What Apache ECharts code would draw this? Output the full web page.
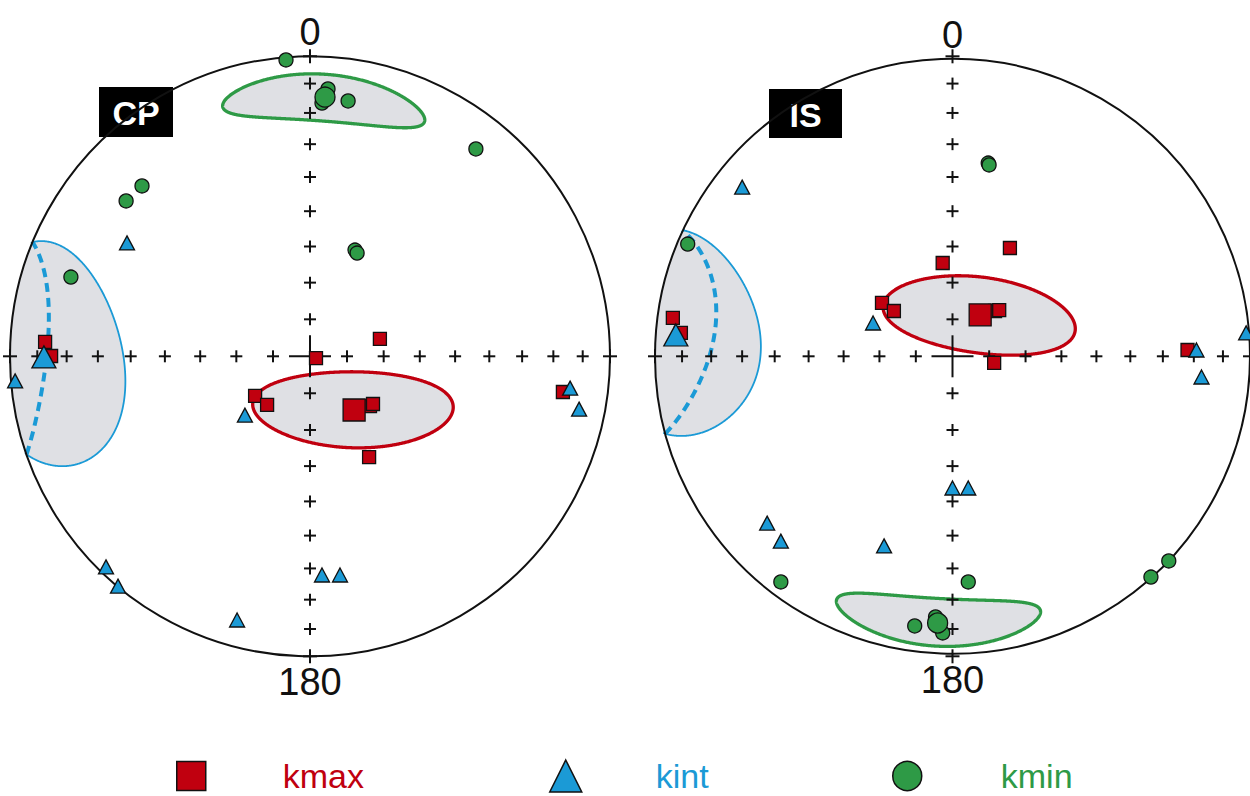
<!DOCTYPE html>
<html>
<head>
<meta charset="utf-8">
<script src="https://cdn.jsdelivr.net/npm/echarts@6/dist/echarts.min.js"></script>
<style>
  html, body { margin: 0; padding: 0; background: #fff; }
  #chart { width: 1250px; height: 796px; }
</style>
</head>
<body>
<div id="chart"></div>
<script>
// Equal-area, lower-hemisphere nets of AMS principal axes at two sites (CP, IS).
// Positions are net coordinates: x east, y north, primitive circle radius 1.

// ---- site CP ----
const cpKmax = [[-0.883, 0.048], [-0.863, 0.001], [0.020, -0.006], [0.233, 0.058], [0.200, -0.166],
                [0.210, -0.159], [0.197, -0.336], [-0.183, -0.132], [-0.143, -0.162], [0.843, -0.119]];
const cpKint = [[-0.983, -0.082], [-0.610, 0.378], [-0.217, -0.196], [-0.680, -0.702], [-0.640, -0.766],
                [-0.243, -0.879], [0.040, -0.729], [0.100, -0.729], [0.867, -0.106], [0.897, -0.176]];
const cpKmin = [[-0.080, 0.988], [-0.560, 0.568], [-0.613, 0.518], [-0.797, 0.264], [0.553, 0.691],
                [0.150, 0.354], [0.157, 0.344], [0.040, 0.844], [0.060, 0.891], [0.127, 0.851]];
const cpKmaxMean = [0.147, -0.179];
const cpKintMean = [-0.887, -0.002];
const cpKminMean = [0.050, 0.864];
// confidence cones: [semi-angle along axis (deg), semi-angle across (deg), axis azimuth on the net (deg)]
const cpKmaxCone = [27.3, 10.3, 92];
const cpKintCone = [27, 22.5, 121];
const cpKminCone = [22, 8, 95];

// ---- site IS ----
const isKmax = [[-0.940, 0.128], [-0.913, 0.078], [-0.237, 0.178], [-0.197, 0.151], [-0.033, 0.311],
                [0.193, 0.361], [0.143, 0.151], [0.157, 0.154], [0.790, 0.021], [0.140, -0.022]];
const isKint = [[-0.707, 0.564], [-0.267, 0.111], [0.820, 0.021], [0.987, 0.078], [0.837, -0.069],
                [0.000, -0.439], [0.053, -0.439], [-0.623, -0.556], [-0.577, -0.616], [-0.230, -0.632]];
const isKmin = [[-0.890, 0.374], [0.120, 0.644], [0.123, 0.638], [0.053, -0.752], [0.667, -0.736],
                [0.727, -0.682], [-0.577, -0.752], [-0.127, -0.899], [-0.057, -0.869], [-0.033, -0.922]];
const isKmaxMean = [0.093, 0.138];
const isKintMean = [-0.930, 0.071];
const isKminMean = [-0.050, -0.889];
const isKmaxCone = [26.5, 10.3, 97];
const isKintCone = [28.5, 20.5, 104];
const isKminCone = [22, 8.3, 93];

// net graticule ticks (plunge along the four cardinal trends) and labels
const tickTrends = [0, 90, 180, 270];
const tickPlunges = [90, 80, 70, 60, 50, 40, 30, 20, 10, 0];
const northLabel = '0';
const southLabel = '180';
const siteNames = ['CP', 'IS'];
const axisNames = ['kmax', 'kint', 'kmin'];

const COLORS = { kmax: '#c0000f', kint: '#1b9ad6', kmin: '#2e9a46' };
const FILL = '#dfe0e4';
const INK = '#111111';
const FONT = '"Liberation Sans", Arial, Helvetica, sans-serif';
const D2R = Math.PI / 180;
const SQ2 = Math.SQRT2;

// direction (north, east, down) -> equal-area net coordinates
function toNet(n, e, d) {
  const p = Math.asin(Math.max(-1, Math.min(1, d)));
  const t = Math.atan2(e, n);
  const r = SQ2 * Math.sin((Math.PI / 2 - p) / 2);
  return [r * Math.sin(t), r * Math.cos(t)];
}
function fromNet(x, y) {
  const r = Math.hypot(x, y);
  return { trend: Math.atan2(x, y), plunge: Math.PI / 2 - 2 * Math.asin(Math.min(1, r / SQ2)) };
}
function trendPlungeToNet(trendDeg, plungeDeg) {
  const t = trendDeg * D2R, p = plungeDeg * D2R;
  return toNet(Math.cos(p) * Math.cos(t), Math.cos(p) * Math.sin(t), Math.sin(p));
}

// outline of an elliptical confidence cone about a mean axis; parts above the
// horizon are folded back into the lower hemisphere and flagged
function coneOutline(mean, cone, steps) {
  const { trend: T, plunge: P } = fromNet(mean[0], mean[1]);
  const cT = Math.cos(T), sT = Math.sin(T), cP = Math.cos(P), sP = Math.sin(P);
  const m = [cP * cT, cP * sT, sP];
  const outward = [sP * cT, sP * sT, -cP];
  const side = [-sT, cT, 0];
  const g = cone[2] * D2R - T;
  const A = outward.map((o, i) => Math.cos(g) * o + Math.sin(g) * side[i]);
  const B = outward.map((o, i) => -Math.sin(g) * o + Math.cos(g) * side[i]);
  const ta = Math.tan(cone[0] * D2R), tb = Math.tan(cone[1] * D2R);
  const pts = [];
  for (let i = 0; i < steps; i++) {
    const a = 2 * Math.PI * i / steps;
    const d = m.map((mi, k) => mi + ta * Math.cos(a) * A[k] + tb * Math.sin(a) * B[k]);
    const len = Math.hypot(d[0], d[1], d[2]);
    pts.push({ xy: toNet(d[0] / len, d[1] / len, Math.abs(d[2]) / len), up: d[2] < 0 });
  }
  return pts;
}

const coneStyles = {
  kmax: { stroke: COLORS.kmax, width: 3.3 },
  kint: { stroke: COLORS.kint, width: 1.8, dashWidth: 4 },
  kmin: { stroke: COLORS.kmin, width: 3.3 }
};

const nets = [
  { name: siteNames[0],
    points: { kmax: cpKmax, kint: cpKint, kmin: cpKmin },
    means: { kmax: cpKmaxMean, kint: cpKintMean, kmin: cpKminMean },
    cones: { kmax: cpKmaxCone, kint: cpKintCone, kmin: cpKminCone } },
  { name: siteNames[1],
    points: { kmax: isKmax, kint: isKint, kmin: isKmin },
    means: { kmax: isKmaxMean, kint: isKintMean, kmin: isKminMean },
    cones: { kmax: isKmaxCone, kint: isKintCone, kmin: isKminCone } }
];

function makeConeRenderer(net) {
  return function (params, api) {
    const kind = axisNames[api.value(2)];
    const st = coneStyles[kind];
    const pts = coneOutline(net.means[kind], net.cones[kind], 720);
    const px = p => api.coord(p);
    if (!pts.some(p => p.up)) {
      return { type: 'polygon', shape: { points: pts.map(p => px(p.xy)) },
               style: { fill: FILL, stroke: st.stroke, lineWidth: st.width } };
    }
    const n = pts.length;
    const s = pts.findIndex((p, i) => !p.up && pts[(i - 1 + n) % n].up);
    const seq = pts.slice(s).concat(pts.slice(0, s));
    const k = seq.findIndex(p => p.up);
    const lower = seq.slice(0, k).map(p => p.xy);
    const upper = seq.slice(k).map(p => p.xy);
    const rim = p => { const r = Math.hypot(p[0], p[1]); return [p[0] / r, p[1] / r]; };
    const endRim = rim(lower[lower.length - 1]);
    const startRim = rim(lower[0]);
    lower.unshift(startRim); lower.push(endRim);
    upper.unshift(endRim); upper.push(startRim);
    const ang = p => Math.atan2(p[1], p[0]);
    const wrap = a => ((a % (2 * Math.PI)) + 2 * Math.PI) % (2 * Math.PI);
    const e = ang(endRim), b = ang(startRim);
    const mid = ang(rim(upper[Math.floor(upper.length / 2)]));
    let sweep = wrap(b - e);
    if (wrap(mid - e) > sweep) sweep -= 2 * Math.PI;
    const arc = [];
    for (let i = 1; i < 60; i++) {
      const a = e + sweep * i / 60;
      arc.push([Math.cos(a), Math.sin(a)]);
    }
    return { type: 'group', children: [
      { type: 'polygon', shape: { points: lower.concat(arc).map(px) }, style: { fill: FILL } },
      { type: 'polyline', shape: { points: lower.map(px) },
        style: { fill: null, stroke: st.stroke, lineWidth: st.width } },
      { type: 'polyline', shape: { points: upper.map(px) },
        style: { fill: null, stroke: st.stroke, lineWidth: st.dashWidth, lineDash: [9, 6] } }
    ] };
  };
}

function renderFrame(params, api) {
  const c = api.coord([0, 0]);
  const R = api.size([1, 1])[0];
  return { type: 'group', children: [
    { type: 'circle', shape: { cx: c[0], cy: c[1], r: R },
      style: { fill: null, stroke: INK, lineWidth: 2 } },
    { type: 'text', style: { text: northLabel, x: c[0], y: c[1] - R - 24, align: 'center',
      verticalAlign: 'middle', fontSize: 38, fontFamily: FONT, fill: INK } },
    { type: 'text', style: { text: southLabel, x: c[0], y: c[1] + R + 26, align: 'center',
      verticalAlign: 'middle', fontSize: 38, fontFamily: FONT, fill: INK } }
  ] };
}

function renderTick(params, api) {
  const x = api.value(0), y = api.value(1);
  const p = api.coord([x, y]);
  const r = Math.hypot(x, y);
  const arm = r < 1e-6 ? 21 : (r > 0.999 ? 7 : 6);
  const st = { stroke: INK, lineWidth: 2 };
  return { type: 'group', children: [
    { type: 'line', shape: { x1: p[0] - arm, y1: p[1], x2: p[0] + arm, y2: p[1] }, style: st },
    { type: 'line', shape: { x1: p[0], y1: p[1] - arm, x2: p[0], y2: p[1] + arm }, style: st }
  ] };
}

const tickData = [[0, 0]];
tickTrends.forEach(t => tickPlunges.forEach(p => { if (p < 90) tickData.push(trendPlungeToNet(t, p)); }));

const markStyle = {
  kmax: { symbol: 'rect', size: 13, meanSize: 22 },
  kint: { symbol: 'triangle', size: [15, 14], meanSize: [24, 22] },
  kmin: { symbol: 'circle', size: 14, meanSize: 20 }
};
const drawOrder = ['kmax', 'kmin', 'kint'];

const series = [];
nets.forEach((net, gi) => {
  const axes = { xAxisIndex: gi, yAxisIndex: gi };
  series.push({ type: 'custom', name: net.name + ' cones', ...axes, z: 1, silent: true,
    encode: { x: 0, y: 1 },
    data: axisNames.map((k, i) => [net.means[k][0], net.means[k][1], i]),
    renderItem: makeConeRenderer(net) });
  series.push({ type: 'custom', name: net.name + ' net', ...axes, z: 2, silent: true,
    encode: { x: 0, y: 1 }, data: [[0, 0]], renderItem: renderFrame });
  series.push({ type: 'custom', name: net.name + ' ticks', ...axes, z: 3, silent: true,
    encode: { x: 0, y: 1 }, data: tickData, renderItem: renderTick });
  drawOrder.forEach(k => {
    const ms = markStyle[k];
    const itemStyle = { color: COLORS[k], borderColor: INK, borderWidth: 1.3, opacity: 1 };
    series.push({ type: 'scatter', name: k, ...axes, z: 4, symbol: ms.symbol, symbolSize: ms.size,
      itemStyle, data: net.points[k] });
    series.push({ type: 'scatter', name: k, ...axes, z: 4, symbol: ms.symbol, symbolSize: ms.meanSize,
      itemStyle, data: [net.means[k]] });
  });
});

const netGrids = [
  { left: 10, top: 56.3, width: 600, height: 600 },
  { left: 655, top: 56.3, width: 600, height: 600 }
];
const hiddenAxis = { type: 'value', min: -1, max: 1, show: false };

const legendSpec = [
  { name: 'kmax', icon: 'rect', left: 176, w: 29, h: 29, pad: 72 },
  { name: 'kint', icon: 'triangle', left: 549, w: 32, h: 32, pad: 69 },
  { name: 'kmin', icon: 'circle', left: 892, w: 29, h: 29, pad: 74 }
];

const option = {
  animation: false,
  backgroundColor: '#ffffff',
  grid: netGrids,
  xAxis: netGrids.map((g, i) => ({ ...hiddenAxis, gridIndex: i })),
  yAxis: netGrids.map((g, i) => ({ ...hiddenAxis, gridIndex: i })),
  legend: legendSpec.map(l => ({
    left: l.left, top: 756, padding: 0, selectedMode: false, itemWidth: l.w, itemHeight: l.h,
    data: [{ name: l.name, icon: l.icon,
      itemStyle: { color: COLORS[l.name], borderColor: INK, borderWidth: 1.5 } }],
    textStyle: { color: COLORS[l.name], fontSize: 34, lineHeight: 40, fontFamily: FONT, padding: [0, 0, 0, l.pad] }
  })),
  graphic: [
    { type: 'group', left: 99, top: 87, children: [
      { type: 'rect', shape: { x: 0, y: 0, width: 74, height: 50 }, style: { fill: '#000' } },
      { type: 'text', style: { text: siteNames[0], x: 37, y: 26, align: 'center', verticalAlign: 'middle',
        fontSize: 34, fontWeight: 'bold', fontFamily: FONT, fill: '#fff' } }
    ] },
    { type: 'group', left: 769, top: 89, children: [
      { type: 'rect', shape: { x: 0, y: 0, width: 73, height: 49 }, style: { fill: '#000' } },
      { type: 'text', style: { text: siteNames[1], x: 36.5, y: 25.5, align: 'center', verticalAlign: 'middle',
        fontSize: 34, fontWeight: 'bold', fontFamily: FONT, fill: '#fff' } }
    ] }
  ],
  series
};

const chart = echarts.init(document.getElementById('chart'), null, { renderer: 'svg' });
chart.setOption(option);
</script>
</body>
</html>
